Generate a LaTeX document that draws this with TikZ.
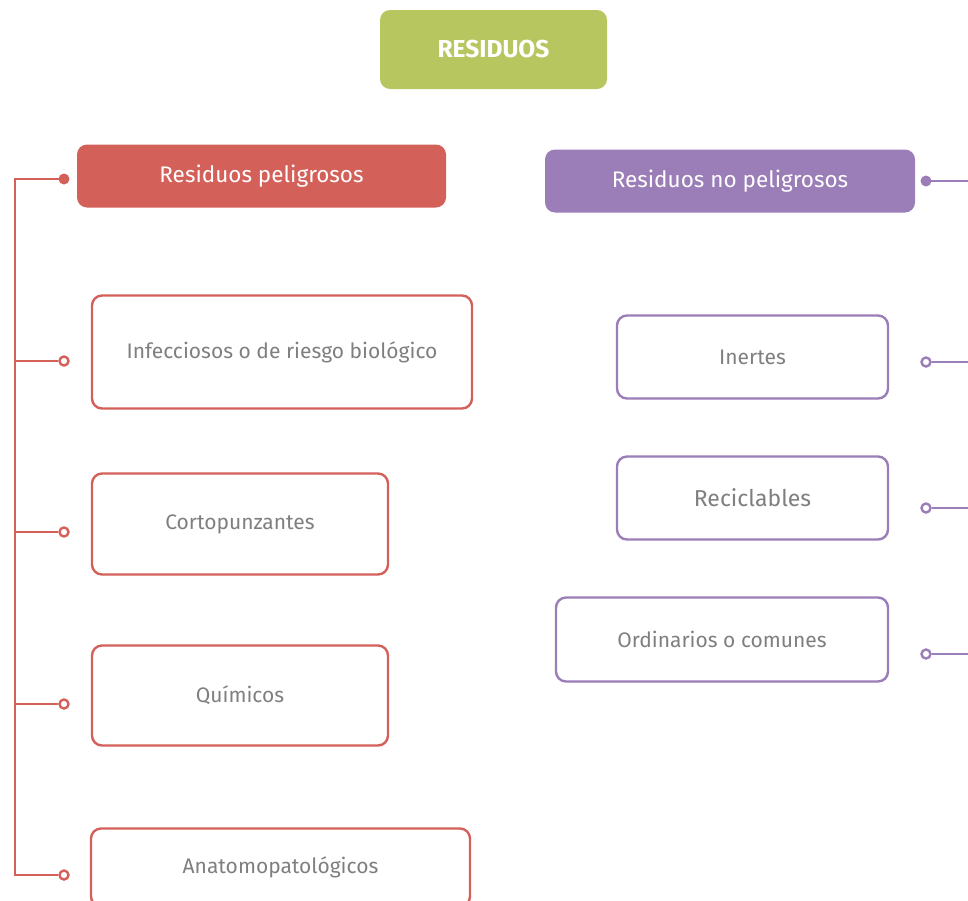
\documentclass[tikz,border=0pt]{standalone}
\usepackage{fontspec}
\setmainfont{Fira Sans}
\definecolor{resgreen}{HTML}{B8C65F}
\definecolor{resred}{HTML}{D4605A}
\definecolor{respurple}{HTML}{9B7DB7}
\definecolor{restext}{HTML}{7F7F7F}
\tikzset{
	headbox/.style={rounded corners=10pt, inner sep=0pt, text=white, font=\fontsize{22.5}{26}\selectfont},
	itembox/.style={draw, line width=2.4pt, rounded corners=10pt, fill=white, inner sep=0pt, text=restext, font=\fontsize{21}{24}\selectfont},
	fulldot/.style={circle, inner sep=0pt, minimum size=11pt},
	opendot/.style={circle, draw, fill=white, line width=2.4pt, inner sep=0pt, minimum size=9pt},
	link/.style={line width=2.4pt},
}
\begin{document}
\begin{tikzpicture}[x=1pt, y=-1pt]
	\useasboundingbox (0, 0) rectangle (968, 900);

	\node[headbox, fill=resgreen, minimum width=227pt, minimum height=79pt, font=\fontsize{24.5}{26}\selectfont\bfseries] (res) at (493.5, 49.5) {RESIDUOS};
	\node[headbox, fill=resred, minimum width=369pt, minimum height=63pt] (pel) at (261.5, 176) {Residuos peligrosos};
	\node[headbox, fill=respurple, minimum width=370pt, minimum height=63pt] (nopel) at (730, 181) {Residuos no peligrosos};

	% peligrosos
	\begin{scope}[every node/.append style={draw=resred}]
		\node[itembox, minimum width=380pt, minimum height=113pt] (inf) at (282, 352) {Infecciosos o de riesgo biológico};
		\node[itembox, minimum width=296pt, minimum height=101pt] (cor) at (240, 524) {Cortopunzantes};
		\node[itembox, minimum width=296pt, minimum height=100pt] (qui) at (240, 695.5) {Químicos};
		\node[itembox, minimum width=379pt, minimum height=78pt] (ana) at (280.5, 867.5) {Anatomopatológicos};

		\node[fulldot, fill=resred, draw=none] (d0) at (64, 179) {};
		\node[opendot] (d1) at (64, 361) {};
		\node[opendot] (d2) at (64, 532) {};
		\node[opendot] (d3) at (64, 704) {};
		\node[opendot] (d4) at (64, 875) {};
		\coordinate (top) at (15, 179);
		\coordinate (bot) at (15, 875);
	\end{scope}
	\draw[resred, link] (d0.center) -- (top) -- (bot) -- (d4.west);
	\foreach \d in {d1, d2, d3}
		\draw[resred, link] (\d.west -| top) -- (\d.west);

	% no peligrosos
	\begin{scope}[every node/.append style={draw=respurple}]
		\node[itembox, minimum width=271pt, minimum height=83pt] (ine) at (752.5, 357) {Inertes};
		\node[itembox, minimum width=271pt, minimum height=83pt, font=\fontsize{23}{26}\selectfont] (rec) at (752.5, 498) {Reciclables};
		\node[itembox, minimum width=332pt, minimum height=84pt] (ord) at (722, 639.5) {Ordinarios o comunes};

		\node[fulldot, fill=respurple, draw=none] (e0) at (926, 181) {};
		\node[opendot] (e1) at (926, 362) {};
		\node[opendot] (e2) at (926, 508) {};
		\node[opendot] (e3) at (926, 654) {};
	\end{scope}
	\coordinate (edge) at (975, 0);
	\draw[respurple, link] (e0.center) -- (e0 -| edge);
	\foreach \d in {e1, e2, e3}
		\draw[respurple, link] (\d.east) -- (\d -| edge);
\end{tikzpicture}
\end{document}
